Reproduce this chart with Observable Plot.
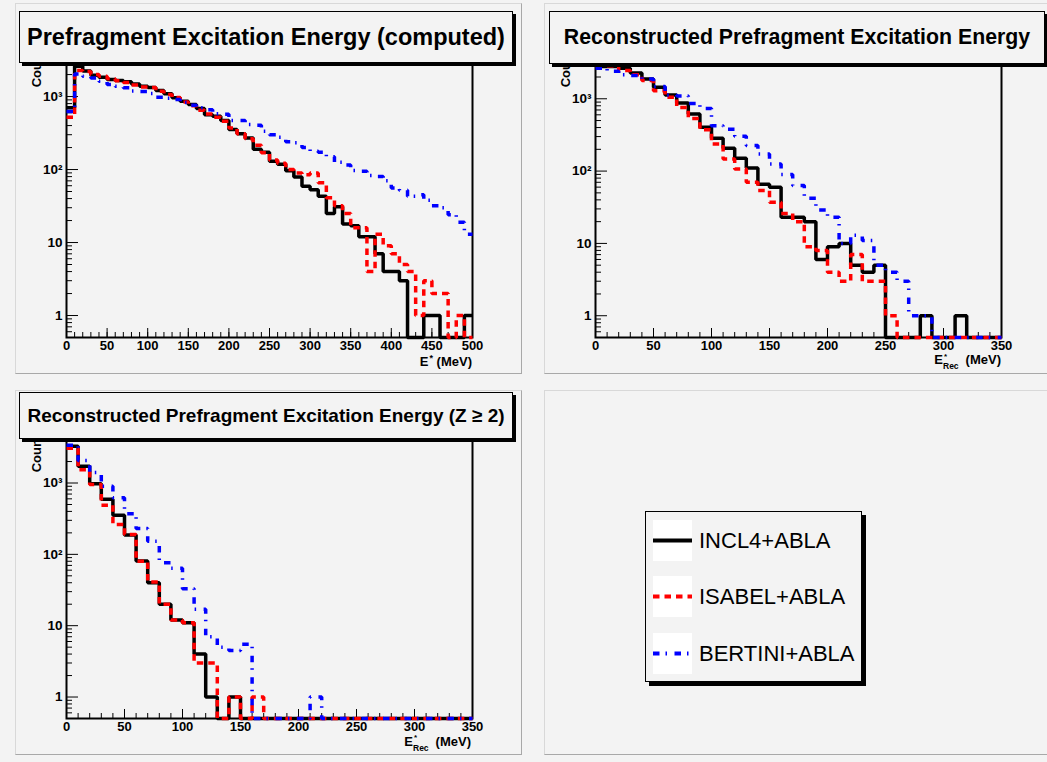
<!DOCTYPE html>
<html>
<head>
<meta charset="utf-8">
<script src="https://cdn.jsdelivr.net/npm/d3@7"></script>
<script src="https://cdn.jsdelivr.net/npm/@observablehq/plot@0.6"></script>
<style>
  html, body { margin: 0; padding: 0; background: #f3f3f3; }
  #canvas { position: relative; width: 1047px; height: 762px; overflow: hidden; background: #f3f3f3;
            font-family: "Liberation Sans", Arial, Helvetica, sans-serif; }
  .pad { position: absolute; box-sizing: border-box;
         border-left: 1px solid #d8d8d8; border-top: 1px solid #d8d8d8;
         border-right: 1px solid #a8a8a8; border-bottom: 1px solid #a8a8a8; }
  .plot { position: absolute; z-index: 2; }
  .plot svg { overflow: visible; }
  .title { position: absolute; box-sizing: border-box; border: 1px solid #000; box-shadow: 3px 3px 0 #000;
           background: #f3f3f3; display: flex; align-items: center; justify-content: center;
           font-weight: bold; white-space: nowrap; z-index: 5; color: #000; }
  .xlabel { position: absolute; font-weight: bold; font-size: 13px; line-height: 8px; white-space: nowrap; z-index: 4; color:#000; }
  .ss { display: inline-block; position: relative; width: 19px; height: 8px; vertical-align: baseline; }
  .ss .sp { position: absolute; left: 1px; top: -3.5px; font-size: 8px; line-height: 8px; }
  .ss .sb { position: absolute; left: 0px; top: 6px; font-size: 8.5px; line-height: 8px; }
  .sup1 { font-size: 9px; position: relative; top: -5px; margin-left: 1px; }
  #legend { position: absolute; left: 645px; top: 511px; width: 217px; height: 171px; box-sizing: border-box;
            border: 1px solid #000; box-shadow: 4px 4px 0 #000; background: #f3f3f3; z-index: 5; }
  .lrow { position: absolute; left: 0; width: 100%; height: 41px; }
  .lrow .sample { position: absolute; left: 7px; top: 0; width: 39px; height: 41px; background: #fff; }
  .lrow .ltext { position: absolute; left: 53px; top: 0; height: 41px; line-height: 41px; font-size: 22px; color: #000; white-space: nowrap; }
</style>
</head>
<body>
<div id="canvas"></div>
<script>
// ---------------- data ----------------
const seriesNames  = ["INCL4+ABLA", "ISABEL+ABLA", "BERTINI+ABLA"];
const seriesColors = ["#000000", "#ff0000", "#0000ff"];
const seriesDash   = [null, "6.5,5", "6.5,6,1.5,7.5"];

const YMIN = 0.5;
const yTickValues = [1, 10, 100, 1000];
const yTickLabels = ["1", "10", "10\u00B2", "10\u00B3"];

// Panel 1: Prefragment excitation energy (computed), 10 MeV bins, 0-500 MeV
const p1Bins = d3.range(0, 500, 10);
const p1Incl = [700, 2600, 2230, 1960, 1840, 1710, 1660, 1590, 1480, 1380,
                1330, 1210, 1090, 960, 860, 780, 685, 565, 535, 470,
                353, 310, 270, 190, 173, 130, 118, 96, 79, 59,
                53, 43, 25, 31, 18, 17, 12, 12, 7, 4,
                4, 3, 0, 0, 1, 1, 0, 0, 0, 1];
const p1Isabel = [520, 2280, 2200, 2000, 1900, 1750, 1650, 1560, 1440, 1350,
                  1330, 1180, 1070, 970, 840, 750, 650, 575, 520, 460,
                  370, 310, 265, 215, 170, 135, 122, 100, 90, 85,
                  90, 66, 41, 32, 25, 16, 16, 4, 13, 9,
                  7, 5, 4, 1, 3, 2, 2, 0, 1, 0];
const p1Bertini = [626, 2040, 1900, 1800, 1620, 1460, 1380, 1320, 1190, 1170,
                   1100, 980, 950, 910, 830, 760, 700, 660, 580, 570,
                   470, 470, 413, 405, 335, 300, 276, 240, 232, 200,
                   178, 173, 150, 126, 115, 97, 95, 83, 80, 70,
                   56, 52, 43, 45, 38, 32, 30, 24, 19, 13];

// Panel 2: Reconstructed prefragment excitation energy, 0-350 MeV
const p2Bins = d3.range(0, 350, 10);
const p2Incl = [2800, 2800, 2650, 2270, 1880, 1440, 1130, 875, 615, 403,
                284, 207, 150, 110, 66, 60, 23, 23, 20, 6,
                9, 10, 5, 4, 5, 0, 0, 0, 1, 0,
                0, 1, 0, 0, 0];
const p2Isabel = [2870, 2870, 2460, 2150, 1790, 1290, 1050, 760, 535, 374,
                  237, 147, 107, 70, 54, 37, 26, 20, 9, 8,
                  4, 3, 7, 3, 3, 1, 0, 0, 0, 0,
                  0, 0, 0, 0, 0];
const p2Bertini = [2650, 2400, 2150, 2100, 1880, 1480, 1130, 1090, 860, 735,
                   425, 380, 303, 225, 172, 125, 90, 63, 42, 29,
                   23, 10, 13, 11, 5, 4, 3, 1, 1, 0,
                   0, 0, 0, 0, 0];

// Panel 3: Reconstructed prefragment excitation energy (Z >= 2), 0-350 MeV
const p3Bins = d3.range(0, 350, 10);
const p3Incl = [3270, 1720, 980, 590, 353, 186, 81, 40, 20, 12,
                11, 4, 1, 0, 1, 0, 0, 0, 0, 0,
                0, 0, 0, 0, 0, 0, 0, 0, 0, 0,
                0, 0, 0, 0, 0];
const p3Isabel = [3070, 1530, 950, 487, 262, 190, 80, 41, 20, 12,
                  11, 3, 3, 0, 1, 0, 1, 0, 0, 0,
                  0, 0, 0, 0, 0, 0, 0, 0, 0, 0,
                  0, 0, 0, 0, 0];
const p3Bertini = [3370, 2060, 1400, 900, 620, 372, 230, 153, 76, 64,
                   33, 17, 7, 5, 4.5, 5.5, 0, 0, 0, 0,
                   0, 1, 0, 0, 0, 0, 0, 0, 0, 0,
                   0, 0, 0, 0, 0];

const titles = [
  "Prefragment Excitation Energy (computed)",
  "Reconstructed Prefragment Excitation Energy",
  "Reconstructed Prefragment Excitation Energy (Z \u2265 2)"
];
const yLabel = "Counts";

// ---------------- helpers ----------------
function stepPoints(bins, values, xmax) {
  const pts = bins.map((b, i) => ({x: b, v: values[i]}));
  pts.push({x: xmax, v: values[values.length - 1]});
  return pts;
}
function logMinorTicks(lo, hi) {
  const t = [];
  for (let e = -1; e <= 4; e++) for (let m = 2; m <= 9; m++) {
    const v = m * Math.pow(10, e);
    if (v >= lo && v <= hi) t.push(v);
  }
  return t;
}

function makePanel({bins, series, xmax, ytop, width, height, ml, mr, mt, mb}) {
  const fw = width - ml - mr, fh = height - mt - mb;
  const xMinor = d3.range(0, xmax + 1, 10);
  const xMajor = d3.range(0, xmax + 1, 50);
  const yMinor = logMinorTicks(YMIN, ytop);
  const lines = series.map((vals, k) => Plot.line(stepPoints(bins, vals, xmax), {
    x: "x", y: d => d.v > 0 ? d.v : YMIN, curve: "step-after",
    stroke: seriesColors[k], strokeWidth: 3.5,
    strokeDasharray: seriesDash[k] || undefined,
    strokeLinecap: "butt", strokeLinejoin: "miter"
  }));
  return Plot.plot({
    width, height, marginLeft: ml, marginRight: mr, marginTop: mt, marginBottom: mb,
    style: {background: "transparent", fontFamily: "'Liberation Sans', Arial, sans-serif", color: "#000"},
    x: {domain: [0, xmax]},
    y: {type: "log", domain: [YMIN, ytop]},
    marks: [
      Plot.tickX(xMinor, {x: d => d, insetTop: fh - 5, stroke: "#000", strokeWidth: 1}),
      Plot.tickX(xMajor, {x: d => d, insetTop: fh - 9, stroke: "#000", strokeWidth: 1}),
      Plot.tickY(yMinor, {y: d => d, insetRight: fw - 6, stroke: "#000", strokeWidth: 1}),
      Plot.tickY(yTickValues, {y: d => d, insetRight: fw - 12, stroke: "#000", strokeWidth: 1}),
      Plot.axisX({ticks: xMajor, tickSize: 0, tickPadding: 3, fontSize: 13, fontWeight: "bold",
                  label: null, tickFormat: d => String(d)}),
      Plot.axisY({ticks: yTickValues, tickSize: 0, tickPadding: 4, fontSize: 13.5, fontWeight: "bold",
                  label: null, tickFormat: d => yTickLabels[yTickValues.indexOf(d)]}),
      Plot.frame({stroke: "#000", strokeWidth: 2}),
      ...lines,
      Plot.text([yLabel], {text: d => d, frameAnchor: "top-left", rotate: -90, textAnchor: "end",
                           dx: -35, fontWeight: "bold", fontSize: 13})
    ]
  });
}

// ---------------- layout ----------------
const canvas = document.getElementById("canvas");
function addDiv(cls, style, html) {
  const d = document.createElement("div");
  d.className = cls;
  Object.assign(d.style, style);
  if (html !== undefined) d.innerHTML = html;
  canvas.appendChild(d);
  return d;
}

// pads
addDiv("pad", {left: "15px", top: "3px", width: "507px", height: "371px"});
addDiv("pad", {left: "544px", top: "3px", width: "510px", height: "371px"});
addDiv("pad", {left: "15px", top: "390px", width: "507px", height: "365px"});
addDiv("pad", {left: "544px", top: "390px", width: "510px", height: "365px"});

const panels = [
  {left: 15, top: 3, opts: {bins: p1Bins, series: [p1Incl, p1Isabel, p1Bertini], xmax: 500, ytop: 5500,
                            width: 507, height: 371, ml: 51, mr: 50, mt: 39, mb: 37}},
  {left: 544, top: 3, opts: {bins: p2Bins, series: [p2Incl, p2Isabel, p2Bertini], xmax: 350, ytop: 6000,
                             width: 503, height: 371, ml: 51, mr: 46, mt: 39, mb: 37}},
  {left: 15, top: 390, opts: {bins: p3Bins, series: [p3Incl, p3Isabel, p3Bertini], xmax: 350, ytop: 6000,
                              width: 507, height: 365, ml: 51, mr: 50, mt: 37, mb: 37}}
];
panels.forEach(p => {
  const holder = addDiv("plot", {left: p.left + "px", top: p.top + "px"});
  holder.appendChild(makePanel(p.opts));
});

// title boxes
addDiv("title", {left: "19px", top: "11px", width: "494px", height: "52px", fontSize: "23.5px"}, titles[0]);
addDiv("title", {left: "549px", top: "11px", width: "496px", height: "53px", fontSize: "21.3px"}, titles[1]);
addDiv("title", {left: "19px", top: "392px", width: "494px", height: "47px", fontSize: "19px"}, titles[2]);

// x axis titles (baseline = top + 8.5)
addDiv("xlabel", {right: (1047 - 472) + "px", top: "358px"}, 'E<span class="sup1">*</span> (MeV)');
addDiv("xlabel", {right: (1047 - 1001) + "px", top: "356px"},
       'E<span class="ss"><span class="sp">*</span><span class="sb">Rec</span></span> (MeV)');
addDiv("xlabel", {right: (1047 - 471) + "px", top: "737.5px"},
       'E<span class="ss"><span class="sp">*</span><span class="sb">Rec</span></span> (MeV)');

// legend
const legend = addDiv("", {}, "");
legend.id = "legend";
const rowTops = [8, 64, 121];
seriesNames.forEach((name, k) => {
  const row = document.createElement("div");
  row.className = "lrow";
  row.style.top = rowTops[k] + "px";
  const dash = seriesDash[k] ? ` stroke-dasharray="${seriesDash[k]}"` : "";
  row.innerHTML = `<div class="sample"><svg width="39" height="41"><line x1="0" x2="39" y1="20.5" y2="20.5" stroke="${seriesColors[k]}" stroke-width="4"${dash}/></svg></div><div class="ltext">${name}</div>`;
  legend.appendChild(row);
});
</script>
</body>
</html>
